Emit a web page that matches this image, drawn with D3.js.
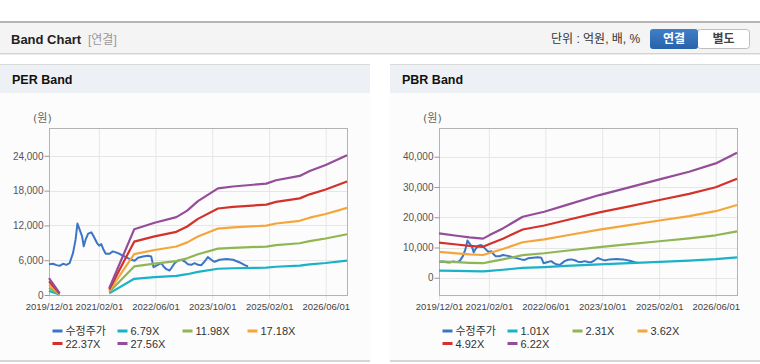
<!DOCTYPE html>
<html>
<head>
<meta charset="utf-8">
<script src="https://cdn.jsdelivr.net/npm/d3@7/dist/d3.min.js"></script>
<style>
  body { margin: 0; background: #fff; font-family: "Liberation Sans", Arial, sans-serif; }
  svg text { font-family: "Liberation Sans", Arial, "Noto Sans CJK KR", sans-serif; }
</style>
</head>
<body>
<svg id="chart" width="760" height="364"></svg>
<script>
// data
let xTickDates = ["2019-12-01", "2021-02-01", "2022-06-01", "2023-10-01", "2025-02-01", "2026-06-01"];
let xTickLabels = ["2019/12/01", "2021/02/01", "2022/06/01", "2023/10/01", "2025/02/01", "2026/06/01"];

let priceDates = ["2019-12-01","2020-01-05","2020-02-03","2020-03-01","2020-03-30","2020-04-28","2020-05-26",
  "2020-06-24","2020-07-16","2020-08-01","2020-08-20","2020-09-10","2020-09-24","2020-10-10","2020-11-01",
  "2020-11-28","2020-12-18","2021-01-16","2021-02-04","2021-02-22","2021-03-13","2021-04-01","2021-05-04",
  "2021-06-01","2021-07-15","2021-08-28","2021-09-25","2021-11-06","2021-12-05","2022-01-03","2022-02-15",
  "2022-03-28","2022-04-26","2022-05-16","2022-06-22","2022-07-22","2022-08-10","2022-09-03","2022-10-01",
  "2022-10-25","2022-11-13","2022-12-13","2023-01-10","2023-02-08","2023-03-07","2023-04-04","2023-05-04",
  "2023-06-01","2023-06-30","2023-07-28","2023-08-25","2023-09-24","2023-10-22","2023-12-04","2024-02-01",
  "2024-03-28","2024-05-25","2024-07-07","2024-08-04"];
let price = [5320,5380,5150,5030,5380,5200,5490,
  7230,9540,12320,11280,10120,8390,9540,10580,
  10810,10120,8960,8500,8790,7800,7110,7110,
  7520,7230,6770,6480,6070,5900,6420,6650,
  6770,6650,4800,5200,5490,4920,4450,4220,
  4920,5490,5960,6070,5780,5320,5200,5490,
  5200,5150,5780,6530,6070,5730,6070,6190,
  6070,5610,5150,4920];

// PER band: EPS per share (null = negative EPS, line broken)
let epsDates = ["2019-12-01","2020-03-01","2020-04-01","2021-05-01","2021-12-01","2022-05-25","2022-11-28",
  "2023-03-01","2023-06-01","2023-11-20","2024-03-28","2025-01-08","2025-04-01","2025-10-21","2026-01-15",
  "2026-06-01","2026-12-01"];
let eps = [105, 12, null, 42, 411, 452, 487, 528, 587, 667, 679, 697, 718, 745, 776, 813, 875];
let perMultiples = [6.79, 11.98, 17.18, 22.37, 27.56];

// PBR band: BPS per share
let bpsDates = ["2019-12-01","2020-05-01","2020-08-18","2020-12-13","2021-02-07","2021-06-01","2021-11-18",
  "2022-05-22","2022-11-25","2023-09-07","2024-05-20","2025-02-04","2025-10-16","2026-06-01","2026-12-01"];
let bps = [2357, 2233, 2143, 2080, 2267, 2622, 3243, 3508, 3862, 4394, 4800, 5227, 5633, 6077, 6645];
let pbrMultiples = [1.01, 2.31, 3.62, 4.92, 6.22];

let perTicks = [0, 6000, 12000, 18000, 24000];
let pbrTicks = [0, 10000, 20000, 30000, 40000];

let priceName = "수정주가";
let unitLabel = "(원)";
let colors = ["#3b76c6", "#19b2c7", "#8fb652", "#f4a63a", "#d2322b", "#944d99"];

const parse = d3.timeParse("%Y-%m-%d");
const svg = d3.select("#chart");

// ---- header bar ----
svg.append("rect").attr("x", 0).attr("y", 22).attr("width", 760).attr("height", 31).attr("fill", "#f4f4f4");
svg.append("line").attr("x1", 0).attr("x2", 760).attr("y1", 22).attr("y2", 22).attr("stroke", "#b5b5b5").attr("stroke-width", 2);
svg.append("line").attr("x1", 0).attr("x2", 760).attr("y1", 53.5).attr("y2", 53.5).attr("stroke", "#d2d2d2");
svg.append("line").attr("x1", 0).attr("x2", 760).attr("y1", 54.5).attr("y2", 54.5).attr("stroke", "#ececec");

svg.append("text").attr("x", 11).attr("y", 43.5).attr("font-size", 13).attr("font-weight", "bold")
  .attr("fill", "#222").text("Band Chart");
svg.append("text").attr("x", 88).attr("y", 43.5).attr("font-size", 12).attr("fill", "#999").text("[연결]");
svg.append("text").attr("x", 551).attr("y", 43).attr("font-size", 12).attr("fill", "#333").text("단위 : 억원, 배, %");

let grad = svg.append("defs").append("linearGradient").attr("id", "btn").attr("x1", 0).attr("x2", 0).attr("y1", 0).attr("y2", 1);
grad.append("stop").attr("offset", "0%").attr("stop-color", "#3f80c8");
grad.append("stop").attr("offset", "100%").attr("stop-color", "#2762aa");
svg.append("rect").attr("x", 697.5).attr("y", 29.5).attr("width", 52).attr("height", 19).attr("rx", 3)
  .attr("fill", "#fff").attr("stroke", "#bdbdbd");
svg.append("rect").attr("x", 650).attr("y", 29).attr("width", 48).attr("height", 20).attr("rx", 3).attr("fill", "url(#btn)");
svg.append("text").attr("x", 674).attr("y", 43).attr("text-anchor", "middle").attr("font-size", 12)
  .attr("font-weight", "bold").attr("fill", "#fff").text("연결");
svg.append("text").attr("x", 723.5).attr("y", 43).attr("text-anchor", "middle").attr("font-size", 12)
  .attr("font-weight", "bold").attr("fill", "#444").text("별도");

// ---- one band panel ----
function drawPanel(px, title, domainY, yTicks, baseDates, baseVals, multiples) {
  let g = svg.append("g").attr("transform", "translate(" + px + ",0)");
  g.append("rect").attr("x", 0).attr("y", 93).attr("width", 370).attr("height", 268).attr("fill", "#fcfcfc");
  g.append("rect").attr("x", 0).attr("y", 64).attr("width", 370).attr("height", 29).attr("fill", "#edf1f6");
  g.append("line").attr("x1", 0).attr("x2", 370).attr("y1", 64.5).attr("y2", 64.5).attr("stroke", "#d9d9d9");
  g.append("line").attr("x1", 0).attr("x2", 370).attr("y1", 361).attr("y2", 361).attr("stroke", "#d6d6d6").attr("stroke-width", 2);
  g.append("text").attr("x", 12).attr("y", 84).attr("font-size", 12.5).attr("font-weight", "bold")
    .attr("fill", "#111").text(title);

  let left = 49, right = 347, top = 128, bottom = 295;
  let x = d3.scaleTime()
    .domain([parse("2019-12-01"), parse("2026-12-01")])
    .range([left, right]);
  let y = d3.scaleLinear().domain(domainY).range([bottom, top]);

  g.append("text").attr("x", 33).attr("y", 122).attr("font-size", 11).attr("fill", "#666")
    .style("font-family", "'DejaVu Sans', 'Noto Sans CJK KR', sans-serif").text(unitLabel);

  // grid
  g.append("g").selectAll("line").data(xTickDates).enter().append("line")
    .attr("x1", d => x(parse(d)) + 0.5).attr("x2", d => x(parse(d)) + 0.5)
    .attr("y1", top).attr("y2", bottom + 5)
    .attr("stroke", "#e6e6e6");
  g.append("g").selectAll("line").data(yTicks).enter().append("line")
    .attr("x1", left).attr("x2", right)
    .attr("y1", d => Math.round(y(d)) + 0.5).attr("y2", d => Math.round(y(d)) + 0.5)
    .attr("stroke", "#e6e6e6");

  g.append("rect").attr("x", left + 0.5).attr("y", top + 0.5).attr("width", right - left).attr("height", bottom - top)
    .attr("fill", "none").attr("stroke", "#b3b3b3");

  // y axis
  let yAxis = g.append("g").attr("transform", "translate(" + (left + 0.5) + ",0)")
    .call(d3.axisLeft(y).tickValues(yTicks).tickSize(5).tickSizeOuter(0).tickFormat(d3.format(",")));
  yAxis.select(".domain").remove();
  yAxis.selectAll(".tick line").attr("stroke", "#999");
  yAxis.selectAll(".tick text").attr("fill", "#555").attr("font-size", 10).attr("x", -6)
    .style("font-family", "'Liberation Sans', Arial, sans-serif");

  // x axis labels
  let xAxis = g.append("g").attr("transform", "translate(0," + bottom + ")")
    .call(d3.axisBottom(x).tickValues(xTickDates.map(parse)).tickSize(0)
      .tickFormat((d, i) => xTickLabels[i]));
  xAxis.select(".domain").remove();
  xAxis.selectAll(".tick text").attr("fill", "#444").attr("font-size", 9.5).attr("dy", "1.3em")
    .style("font-family", "'Liberation Sans', Arial, sans-serif");

  // price
  let priceData = priceDates.map((d, i) => ({ d: parse(d), v: price[i] }));
  let line = d3.line().defined(p => p.v !== null).x(p => x(p.d)).y(p => y(p.v));
  g.append("path").datum(priceData).attr("fill", "none").attr("stroke", colors[0])
    .attr("stroke-width", 2).attr("stroke-linejoin", "round").attr("d", line);

  // bands
  multiples.forEach(function (m, k) {
    let bandData = baseDates.map((d, i) => ({ d: parse(d), v: baseVals[i] === null ? null : baseVals[i] * m }));
    g.append("path").datum(bandData).attr("fill", "none").attr("stroke", colors[k + 1])
      .attr("stroke-width", 2.2).attr("stroke-linejoin", "round").attr("d", line);
  });

  // legend
  let names = [priceName].concat(multiples.map(m => m.toFixed(2) + "X"));
  names.forEach(function (n, i) {
    let lx = 52.5 + (i % 4) * 65, ly = 331 + Math.floor(i / 4) * 12.5;
    g.append("line").attr("x1", lx).attr("x2", lx + 10).attr("y1", ly).attr("y2", ly)
      .attr("stroke", colors[i]).attr("stroke-width", 3);
    g.append("text").attr("x", lx + 13).attr("y", ly + 4).attr("font-size", 11).attr("fill", "#333").text(n);
  });
}

drawPanel(0, "PER Band", [0, 28800], perTicks, epsDates, eps, perMultiples);
drawPanel(390, "PBR Band", [-5700, 49500], pbrTicks, bpsDates, bps, pbrMultiples);
</script>
</body>
</html>
